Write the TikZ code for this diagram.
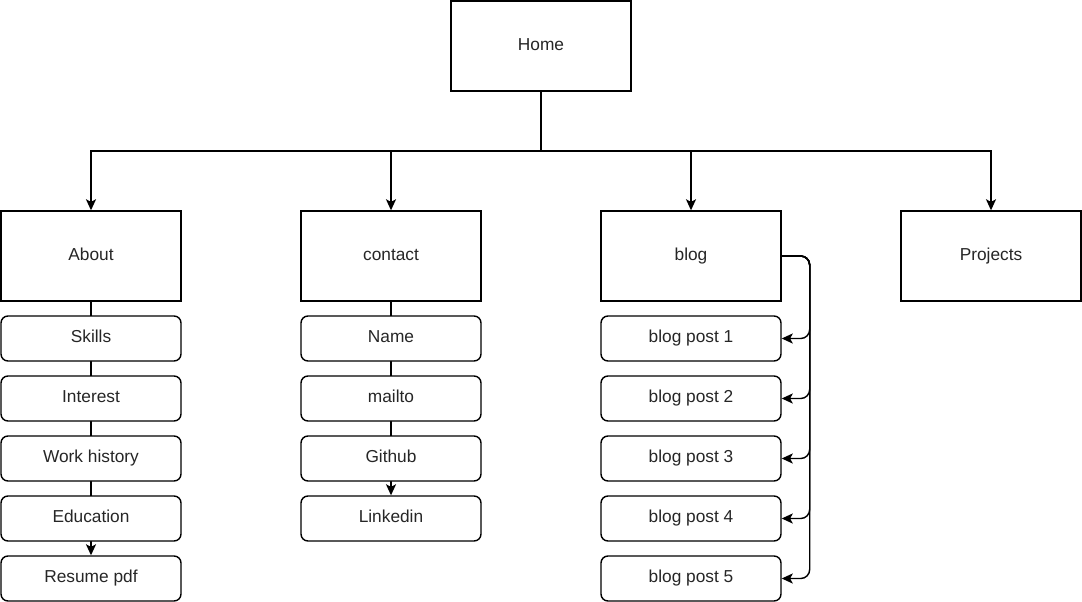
\documentclass[tikz,border=0pt]{standalone}
\usepackage{fontspec}
\setmainfont{Liberation Sans}
\usetikzlibrary{arrows.meta,backgrounds}
\definecolor{txt}{HTML}{262626}
\begin{document}
\begin{tikzpicture}[x=1pt,y=-1pt,
  lbl/.style={font=\fontsize{17.3}{20}\selectfont,text=txt,text height=12.5pt,text depth=4pt},
  bigbox/.style={lbl,draw,line width=1.4pt,fill=white,minimum width=180pt,minimum height=90pt,inner sep=0pt},
  smallbox/.style={lbl,draw,line width=1.4pt,fill=white,rounded corners=7pt,minimum width=180pt,minimum height=45pt,inner sep=0pt},
  conn/.style={line width=1.4pt,-{Stealth[length=11pt,width=10pt,inset=2.5pt]}}]
\useasboundingbox (0,0) rectangle (1082,602);
\node[bigbox] (home) at (541,46) {Home};
\node[bigbox] (about) at (91,256) {About};
\node[bigbox] (contact) at (391,256) {contact};
\node[bigbox] (blog) at (691,256) {blog};
\node[bigbox] (projects) at (991,256) {Projects};

\node[smallbox] (skills) at (91,338.5) {Skills};
\node[smallbox] (interest) at (91,398.5) {Interest};
\node[smallbox] (work) at (91,458.5) {Work history};
\node[smallbox] (edu) at (91,518.5) {Education};
\node[smallbox] (resume) at (91,578.5) {Resume pdf};

\node[smallbox] (name) at (391,338.5) {Name};
\node[smallbox] (mailto) at (391,398.5) {mailto};
\node[smallbox] (github) at (391,458.5) {Github};
\node[smallbox] (linkedin) at (391,518.5) {Linkedin};

\node[smallbox] (bp1) at (691,338.5) {blog post 1};
\node[smallbox] (bp2) at (691,398.5) {blog post 2};
\node[smallbox] (bp3) at (691,458.5) {blog post 3};
\node[smallbox] (bp4) at (691,518.5) {blog post 4};
\node[smallbox] (bp5) at (691,578.5) {blog post 5};

\coordinate (hub) at (541,151);
\draw[conn] (home.south) -- (hub) -| (about.north);
\draw[conn] (hub) -| (contact.north);
\draw[conn] (hub) -| (blog.north);
\draw[conn] (hub) -| (projects.north);

\begin{scope}[on background layer]
\draw[conn] (about.south) -- (resume.north);
\draw[conn] (contact.south) -- (linkedin.north);
\end{scope}

\foreach \p in {bp1,bp2,bp3,bp4,bp5}{
  \draw[conn,rounded corners=9pt] (blog.east) -- ++(28,0) |- (\p.east);
}
\end{tikzpicture}
\end{document}
